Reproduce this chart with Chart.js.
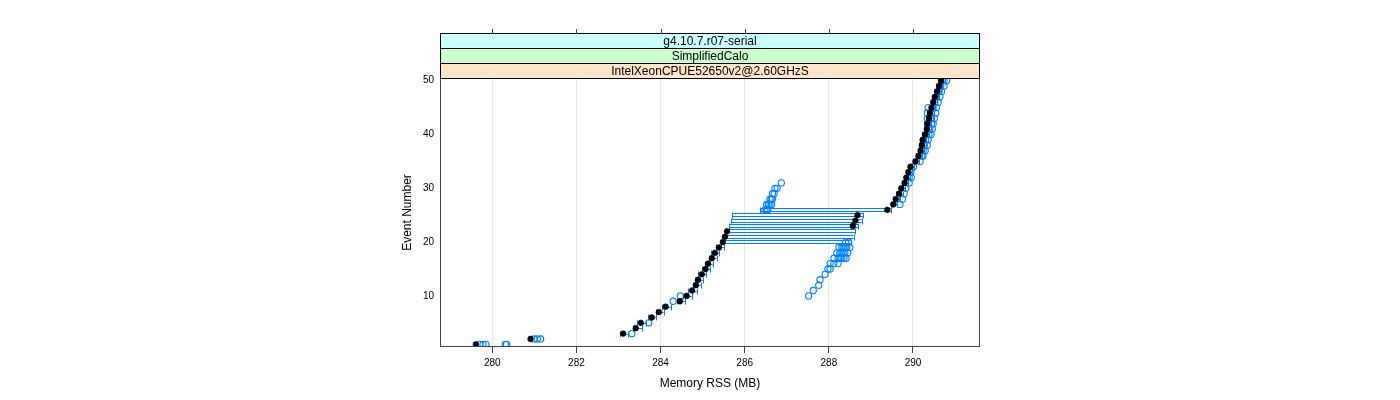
<!DOCTYPE html>
<html><head><meta charset="utf-8">
<script src="https://cdn.jsdelivr.net/npm/chart.js@4/dist/chart.umd.min.js"></script>
<style>html,body{margin:0;padding:0;background:#fff}canvas{display:block}</style>
</head><body>
<canvas id="c" width="1400" height="400"></canvas>
<script>
// ---- data ----
const events = [1,2,3,4,5,6,7,8,9,10,11,12,13,14,15,16,17,18,19,20,21,22,23,24,25,
                26,27,28,29,30,31,32,33,34,35,36,37,38,39,40,41,42,43,44,45,46,47,48,49,50];
const xTicks = [280, 282, 284, 286, 288, 290];
const yTicks = [10, 20, 30, 40, 50];
const stripLabels = ['g4.10.7.r07-serial', 'SimplifiedCalo', 'IntelXeonCPUE52650v2@2.60GHzS'];
const xTitle = 'Memory RSS (MB)';
const yTitle = 'Event Number';

// reference run (black filled points)
const blackValues = [279.61, 280.91, 283.11, 283.41, 283.53, 283.79, 283.96, 284.12, 284.46, 284.62,
  284.75, 284.84, 284.89, 284.98, 285.07, 285.13, 285.22, 285.29, 285.39, 285.48,
  285.53, 285.58, 288.57, 288.63, 288.68, 289.39, 289.53, 289.59, 289.67, 289.72,
  289.80, 289.84, 289.89, 289.94, 290.06, 290.13, 290.18, 290.21, 290.23, 290.29,
  290.33, 290.34, 290.38, 290.40, 290.44, 290.48, 290.52, 290.58, 290.62, 290.67];

// other runs (blue open circles), one list per event
const blueValues = [
  [279.70, 279.78, 279.85, 280.31, 280.34], [280.99, 281.07, 281.15], [283.32], [], [283.72],
  [], [], [], [284.30], [284.47, 287.52],
  [287.63], [287.76], [287.79], [287.91], [287.98, 288.03],
  [288.03, 288.12, 288.22], [288.12, 288.22, 288.27, 288.31, 288.36, 288.41],
  [288.19, 288.26, 288.29, 288.34, 288.38, 288.45], [288.24, 288.31, 288.34, 288.39, 288.43, 288.50], [288.40, 288.47],
  [], [], [], [], [],
  [286.48, 286.52, 286.55], [286.52, 286.56, 286.60, 286.64, 289.69], [286.60, 286.63, 286.66, 289.75], [286.66, 286.70, 289.79], [286.72, 286.77, 289.83],
  [286.87, 289.91], [289.91, 289.96], [289.95], [290.01], [290.17],
  [290.21, 290.24], [290.24, 290.29], [290.27, 290.34], [290.30, 290.36], [290.38, 290.43],
  [290.40, 290.46], [290.36, 290.44, 290.48], [290.34, 290.44, 290.51], [290.34, 290.44, 290.54], [290.36, 290.48, 290.56],
  [290.52, 290.60], [290.56, 290.64], [290.62, 290.68], [290.66, 290.74], [290.74, 290.80]
];

// error bar ends
const errLow = [null, null, 283.04, 283.35, 283.44, 283.70, 283.88, 284.03, 284.38, 284.53,
  284.66, 284.76, 284.81, 284.89, 284.99, 285.05, 285.14, 285.20, 285.31, 285.44,
  285.50, 285.55, 285.63, 285.67, 285.70, 286.36, 289.47, 289.52, 289.60, 289.66,
  289.73, 289.78, 289.83, 289.87, 289.99, 290.06, 290.11, 290.14, 290.17, 290.22,
  290.26, 290.27, 290.31, 290.33, 290.37, 290.42, 290.45, 290.51, 290.55, 290.60];
const errHigh = [null, null, 283.22, 283.57, 283.66, 283.90, 284.07, 284.24, 284.58, 284.74,
  284.86, 284.95, 285.00, 285.09, 285.18, 285.24, 285.33, 285.40, 285.50, 288.52,
  288.59, 288.62, 288.70, 288.78, 288.81, 289.48, 289.62, 289.68, 289.76, 289.81,
  289.89, 289.93, 289.98, 290.03, 290.15, 290.22, 290.27, 290.30, 290.32, 290.38,
  290.42, 290.43, 290.47, 290.49, 290.53, 290.56, 290.60, 290.66, 290.70, 290.75];

// ---- styles ----
const BLUE = '#0080ff';
const FONT = 'Liberation Sans, Arial, Helvetica, sans-serif';
const stripColors = ['#ccffff', '#ccffcc', '#ffe5cc'];
const STRIP_H = 15;

const blackData = events.map((e, i) => ({x: blackValues[i], y: e}));
const blueData = [];
events.forEach((e, i) => blueValues[i].forEach(v => blueData.push({x: v, y: e})));

const errorBars = {
  id: 'errorBars',
  beforeDatasetsDraw(chart) {
    const {ctx, scales: {x, y}} = chart;
    ctx.save();
    ctx.strokeStyle = BLUE;
    ctx.lineWidth = 1;
    events.forEach((e, i) => {
      if (errLow[i] == null) return;
      const py = Math.round(y.getPixelForValue(e));
      const x1 = x.getPixelForValue(errLow[i]);
      const x2 = x.getPixelForValue(errHigh[i]);
      ctx.beginPath();
      if (x2 - x1 > 20) {
        ctx.moveTo(x1, py - 1.5); ctx.lineTo(x2, py - 1.5);
        ctx.moveTo(x1, py + 1.5); ctx.lineTo(x2, py + 1.5);
      } else {
        ctx.moveTo(x1, py + 0.5); ctx.lineTo(x2, py + 0.5);
      }
      ctx.moveTo(Math.round(x1) + 0.5, py - 2.5); ctx.lineTo(Math.round(x1) + 0.5, py + 3.5);
      ctx.moveTo(Math.round(x2) + 0.5, py - 2.5); ctx.lineTo(Math.round(x2) + 0.5, py + 3.5);
      ctx.stroke();
    });
    ctx.restore();
  }
};

const frame = {
  id: 'frame',
  afterDraw(chart) {
    const {ctx, chartArea: a, scales: {x}} = chart;
    ctx.save();
    ctx.strokeStyle = '#444';
    ctx.lineWidth = 1;
    ctx.strokeRect(Math.round(a.left) + 0.5, Math.round(a.top) + 0.5,
                   Math.round(a.right - a.left) - 1, Math.round(a.bottom - a.top) - 1);
    const order = [2, 1, 0];
    order.forEach((k, j) => {
      const top = Math.round(a.top) - STRIP_H * (j + 1);
      ctx.fillStyle = stripColors[k];
      ctx.fillRect(a.left, top, a.right - a.left, STRIP_H);
      ctx.strokeStyle = '#000';
      ctx.strokeRect(Math.round(a.left) + 0.5, top + 0.5, Math.round(a.right - a.left) - 1, STRIP_H);
      ctx.fillStyle = '#000';
      ctx.font = '12px ' + FONT;
      ctx.textAlign = 'center';
      ctx.textBaseline = 'middle';
      ctx.fillText(stripLabels[k], (a.left + a.right) / 2, top + STRIP_H / 2 + 1);
    });
    const stripTop = Math.round(a.top) - STRIP_H * 3;
    ctx.strokeStyle = '#444';
    ctx.beginPath();
    xTicks.forEach(v => {
      const px = Math.round(x.getPixelForValue(v)) + 0.5;
      ctx.moveTo(px, stripTop + 1); ctx.lineTo(px, stripTop - 4);
    });
    ctx.stroke();
    ctx.restore();
  }
};

new Chart(document.getElementById('c'), {
  type: 'scatter',
  data: {
    datasets: [
      {label: 'reference', data: blackData, order: 0, pointStyle: 'circle', pointRadius: 2.9,
       pointBackgroundColor: '#000', pointBorderColor: '#000', pointBorderWidth: 0.5},
      {label: 'runs', data: blueData, order: 1, pointStyle: 'circle', pointRadius: 3.1,
       pointBackgroundColor: 'rgba(0,0,0,0)', pointBorderColor: BLUE, pointBorderWidth: 1.1}
    ]
  },
  options: {
    responsive: false,
    devicePixelRatio: 1,
    animation: false,
    layout: {padding: {left: 380, right: 420, top: 78, bottom: 0}},
    plugins: {legend: {display: false}, tooltip: {enabled: false}},
    scales: {
      x: {
        type: 'linear', min: 278.757, max: 291.593,
        afterBuildTicks: s => { s.ticks = xTicks.map(v => ({value: v})); },
        afterFit: s => { s.height = 53; },
        grid: {color: '#e8e8e8', tickColor: '#444', tickLength: 6, lineWidth: 1},
        border: {display: false},
        ticks: {font: {family: FONT, size: 10}, color: '#000', padding: 4, maxRotation: 0},
        title: {display: true, text: xTitle, font: {family: FONT, size: 12}, color: '#000',
                padding: {top: 0, bottom: 9}}
      },
      y: {
        type: 'linear', min: 0.5, max: 50.5,
        afterBuildTicks: s => { s.ticks = yTicks.map(v => ({value: v})); },
        afterFit: s => { s.width = 60; },
        grid: {display: false, drawTicks: false},
        border: {display: false},
        ticks: {font: {family: FONT, size: 10}, color: '#000', padding: 6},
        title: {display: true, text: yTitle, font: {family: FONT, size: 12}, color: '#000',
                padding: {top: 20, bottom: 0}}
      }
    }
  },
  plugins: [errorBars, frame]
});
</script>
</body></html>
